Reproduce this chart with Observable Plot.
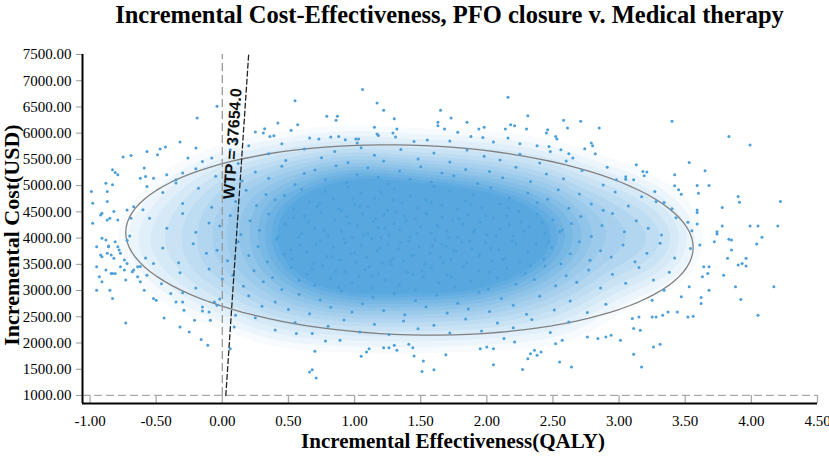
<!DOCTYPE html>
<html>
<head>
<meta charset="utf-8">
<script src="https://cdn.jsdelivr.net/npm/d3@7"></script>
<script src="https://cdn.jsdelivr.net/npm/@observablehq/plot@0.6"></script>
<style>
  body { margin: 0; background: #fff; }
  #title { width: 829px; box-sizing: border-box; padding-left: 82px; padding-right: 12px; height: 38px; line-height: 29px; text-align: center; font-family: "Liberation Serif", "Times New Roman", serif; font-weight: bold; font-size: 24.5px; color: #000; white-space: nowrap; }
</style>
</head>
<body>
<div id="title"></div>
<div id="chart"></div>
<script>
const titleText = "Incremental Cost-Effectiveness, PFO closure v. Medical therapy";
const xLabel = "Incremental Effectiveness(QALY)";
const yLabel = "Incremental Cost(USD)";
const xTicks = [-1, -0.5, 0, 0.5, 1, 1.5, 2, 2.5, 3, 3.5, 4, 4.5];
const yTicks = [1000, 1500, 2000, 2500, 3000, 3500, 4000, 4500, 5000, 5500, 6000, 6500, 7000, 7500];
const wtp = 37654.0;
const wtpLabel = "WTP = 37654.0";
const wtpCosts = [1000, 7500];
const wtpLabelCost = 5800;
// 95% ellipse: centre, half width (QALY), tilt (USD), half height (USD)
const ellipseCenter = [1.415, 3965];
const ellipseA = 2.145;
const ellipseShear = -143;
const ellipseB = 1809;

// scattered simulation points [effect, cost]
const upperLeftPoints = [[-0.04,6512],[-0.19,6290],[0.55,6620],[-0.32,5832],[-0.20,5717],[-0.43,5736],[-0.47,5698],[-0.49,5589],[-0.57,5652],[-0.75,5545],[-0.69,5575],[-0.81,5250],[-0.79,5206],[-0.83,5302],[-0.99,4887],[-0.98,4665],[-0.88,5048],[-0.87,4887],[-0.92,4442],[-0.85,4378],[-0.98,4282],[-0.59,5334],[-0.58,5174],[-0.52,5143],[-0.57,4983],[-0.72,4537],[-0.67,4600],[-0.69,4378],[-0.42,5206],[-0.35,5111],[-0.30,5239],[-0.26,5526],[-0.15,5460],[-0.08,5526],[0.06,5684],[-0.83,5015],[-0.87,4696],[-0.91,4474],[-0.82,4505],[-0.87,4346],[-0.79,4346],[-0.62,5143]];
const lowerLeftPoints = [[-0.95,3836],[-0.92,3677],[-0.95,3453],[-0.93,3262],[-0.91,3166],[-0.95,3008],[-0.85,3008],[-0.83,2849],[-0.84,3327],[-0.81,3327],[-0.73,2382],[-0.86,3836],[-0.79,3836],[-0.87,3710],[-0.72,3518],[-0.68,3358],[-0.64,3453],[-0.73,3199],[-0.62,3166],[-0.59,3008],[-0.57,3294],[-0.52,2849],[-0.50,2816],[-0.44,2478],[-0.52,3518],[-0.39,2944],[-0.35,2784],[-0.30,2784],[-0.32,2306],[-0.25,2210],[-0.29,2625],[-0.21,2434],[-0.15,2688],[-0.16,2065],[-0.11,1956],[-0.10,2593],[-0.09,2434],[-0.04,2721],[-0.06,2784],[0.06,1893],[0.09,2306],[0.56,2180],[-0.91,3996],[-0.88,3964],[-0.86,3849],[-0.81,3931],[-0.78,3772],[-0.84,3677],[-0.82,3614],[-0.77,3709],[-0.74,3581],[-0.91,3645],[-0.88,3390],[-0.83,3327],[-0.77,3453],[-0.74,3390],[-0.67,3390],[-0.64,3262]];
const lowerPoints = [[0.66,1446],[0.68,1491],[0.71,1331],[0.70,1841],[0.78,2038],[0.89,2052],[1.05,1746],[1.09,1828],[1.11,1893],[1.22,1912],[1.26,1912],[1.30,1956],[1.32,1860],[1.41,1975],[1.44,1912],[1.45,1751],[1.52,1656],[1.51,1459],[1.60,1491],[1.69,1778],[1.95,1893],[2.00,1923],[2.05,1893],[2.05,1587],[2.13,2084],[2.21,2020],[2.27,1497],[2.31,1702],[2.33,1797],[2.36,1860],[2.38,1765],[2.41,1828],[2.55,1637],[2.64,1541],[2.52,1988],[2.57,2052],[2.76,2115],[2.84,2084],[2.90,2115],[2.94,2147],[3.01,2052],[3.11,1784],[3.17,1541],[3.26,1923],[3.31,1975]];
const rightPoints = [[3.11,2275],[3.16,2243],[3.10,2466],[3.15,2497],[3.25,2497],[3.28,2497],[3.33,2530],[3.37,2593],[3.44,2593],[3.47,2880],[3.53,3071],[3.34,3008],[3.25,2816],[3.52,2497],[3.56,2510],[3.62,2868],[3.62,2753],[3.68,3008],[3.63,3262],[3.64,3453],[3.68,3453],[3.67,3327],[3.61,3868],[3.72,3931],[3.82,3614],[3.88,3071],[3.92,2829],[3.79,3294],[3.85,3772],[3.90,3486],[3.93,3518],[3.96,3467],[3.96,3614],[4.04,3887],[4.05,2530],[4.17,3071],[3.85,3963],[3.74,4122],[3.74,4078],[3.78,4231],[3.99,4231],[4.05,4231],[4.20,4231],[4.08,4015],[3.52,4302],[3.59,4270],[3.83,3977]];
const upperRightPoints = [[2.58,6245],[2.71,6226],[2.85,6099],[2.61,6099],[2.46,6067],[2.45,6004],[2.52,5939],[2.53,5889],[2.47,5748],[2.48,5652],[2.56,5684],[2.62,5608],[2.65,5526],[2.74,5703],[2.79,5812],[2.80,5761],[2.82,5608],[3.40,6226],[3.83,5939],[3.99,5774],[3.53,5442],[3.42,5206],[3.42,4996],[3.45,4920],[3.47,4837],[3.59,5002],[3.60,4856],[3.65,5283],[3.68,5002],[3.13,5398],[3.18,5270],[3.21,5258],[3.19,5187],[3.27,4887],[3.34,4677],[2.91,5353],[2.98,5111],[3.05,5124],[3.11,5111],[3.78,4581],[3.59,4537],[3.59,4486],[3.90,4792],[3.91,4684],[4.22,4696]];
const upperPoints = [[1.06,6832],[1.17,6577],[1.22,6436],[0.79,6321],[0.87,6321],[0.86,6245],[1.30,6276],[1.32,6080],[1.29,6004],[1.31,5927],[1.15,6111],[1.17,5984],[1.18,5958],[0.42,6194],[0.57,6162],[0.52,6054],[0.32,6086],[0.31,6004],[0.25,6023],[0.36,5939],[0.39,5952],[1.65,6436],[1.63,6207],[1.63,6143],[1.68,6080],[1.73,6290],[1.78,6016],[1.85,6207],[1.88,5939],[1.94,6080],[1.98,6111],[1.97,5920],[2.16,6684],[2.18,6162],[2.21,6143],[2.31,6334],[2.30,6080],[2.14,6080],[2.16,5908],[0.66,5908],[0.73,5889],[0.82,5927],[0.88,5939],[0.93,5876],[1.01,5889],[1.03,5889],[1.02,5812],[1.45,5840],[1.55,5870],[1.72,5850],[2.05,5830],[2.25,5800],[2.38,5760],[0.45,5800],[0.2,5760],[0.1,5850]];
const bandHigh = [[0.12,5420],[0.35,5610],[0.48,5480],[0.62,5700],[0.75,5530],[0.85,5650],[0.95,5440],[1.05,5720],[1.15,5580],[1.22,5470],[1.35,5690],[1.48,5510],[1.6,5620],[1.72,5450],[1.85,5680],[1.98,5560],[2.1,5490],[2.25,5600],[2.4,5430],[2.6,5470],
[-0.35,5050],[-0.2,5320],[-0.05,5180],[0.05,5390],[0.15,5090],[0.25,5260],[0.35,5140],[0.45,5370],[0.55,5020],[0.62,5230],[0.7,5300],[0.78,5110],[0.86,5380],[0.94,5060],[1.02,5210],[1.1,5340],[1.18,5160],[1.26,5030],[1.34,5280],[1.42,5120],[1.5,5360],[1.58,5070],[1.66,5240],[1.75,5190],[1.84,5310],[1.93,5040],[2.02,5270],[2.12,5150],[2.22,5350],[2.33,5080],[2.45,5220],[2.58,5130],[2.72,5290],[2.88,5010],[3.05,5170]];
const bandUpperMid = [[-0.6,4540],[-0.45,4870],[-0.3,4660],[-0.18,4950],[-0.08,4590],[0.02,4780],[0.1,4700],[0.18,4910],[0.26,4620],[0.33,4830],[0.4,4730],[0.47,4810],[0.54,4560],[0.6,4930],[0.66,4690],[0.72,4610],[0.78,4890],[0.84,4750],[0.9,4520],[0.95,4970],[1.0,4640],[1.05,4850],[1.1,4600],[1.15,4760],[1.2,4880],[1.25,4530],[1.3,4940],[1.36,4670],[1.42,4800],[1.48,4570],[1.54,4720],[1.6,4990],[1.66,4630],[1.72,4900],[1.78,4550],[1.84,4710],[1.9,4820],[1.96,4580],[2.03,4960],[2.1,4650],[2.17,4770],[2.24,4510],[2.31,4860],[2.38,4680],[2.46,4740],[2.54,4920],[2.62,4570],[2.7,4840],[2.79,4650],[2.88,4530],[2.97,4880],[3.07,4610],[3.17,4790],[3.28,4700],[3.4,4560],
[-0.7,4040],[-0.55,4380],[-0.42,4190],[-0.3,4470],[-0.2,4110],[-0.1,4290],[-0.02,4230],[0.06,4430],[0.14,4070],[0.21,4330],[0.28,4150],[0.35,4460],[0.42,4020],[0.48,4260],[0.54,4390],[0.6,4090],[0.65,4310],[0.7,4180],[0.75,4490],[0.8,4050],[0.85,4350],[0.9,4130],[0.94,4410],[0.98,4010],[1.02,4240],[1.06,4470],[1.1,4080],[1.14,4320],[1.18,4200],[1.22,4440],[1.26,4060],[1.3,4280],[1.34,4160],[1.38,4420],[1.42,4030],[1.46,4370],[1.5,4210],[1.54,4480],[1.58,4100],[1.62,4250],[1.66,4400],[1.7,4140],[1.74,4340],[1.78,4020],[1.82,4270],[1.86,4450],[1.9,4120],[1.95,4300],[2.0,4060],[2.05,4380],[2.1,4170],[2.15,4420],[2.2,4040],[2.26,4310],[2.32,4220],[2.38,4460],[2.44,4090],[2.5,4350],[2.57,4150],[2.64,4280],[2.71,4410],[2.79,4030],[2.87,4240],[2.95,4470],[3.04,4120],[3.13,4330],[3.22,4190],[3.32,4060],[3.43,4390],[3.55,4140]];
const bandLowerMid = [[-0.72,3960],[-0.58,3620],[-0.45,3810],[-0.33,3530],[-0.22,3890],[-0.12,3710],[-0.04,3770],[0.04,3570],[0.12,3930],[0.2,3670],[0.27,3840],[0.34,3550],[0.41,3980],[0.47,3690],[0.53,3600],[0.59,3870],[0.64,3740],[0.69,3510],[0.74,3950],[0.79,3650],[0.84,3820],[0.89,3580],[0.93,3900],[0.97,3700],[1.01,3540],[1.05,3860],[1.09,3630],[1.13,3990],[1.17,3760],[1.21,3520],[1.25,3880],[1.29,3610],[1.33,3790],[1.37,3560],[1.41,3940],[1.45,3680],[1.49,3830],[1.53,3500],[1.57,3720],[1.61,3970],[1.65,3640],[1.69,3850],[1.73,3590],[1.77,3750],[1.81,3920],[1.85,3530],[1.89,3800],[1.94,3660],[1.99,3910],[2.04,3570],[2.09,3780],[2.14,3620],[2.19,3950],[2.25,3540],[2.31,3730],[2.37,3880],[2.43,3600],[2.49,3820],[2.56,3510],[2.63,3700],[2.7,3930],[2.78,3580],[2.86,3760],[2.94,3640],[3.03,3870],[3.12,3550],[3.21,3710],[3.31,3900],[3.42,3620],[3.54,3800],
[-0.62,3460],[-0.46,3130],[-0.32,3340],[-0.2,3050],[-0.1,3410],[0.0,3220],[0.08,3290],[0.16,3080],[0.24,3380],[0.31,3170],[0.38,3250],[0.45,3020],[0.52,3440],[0.58,3190],[0.64,3310],[0.7,3100],[0.76,3480],[0.82,3230],[0.88,3060],[0.93,3360],[0.98,3150],[1.03,3270],[1.08,3400],[1.13,3040],[1.18,3320],[1.23,3200],[1.28,3490],[1.34,3110],[1.4,3350],[1.46,3010],[1.52,3260],[1.58,3430],[1.64,3140],[1.7,3300],[1.76,3070],[1.82,3450],[1.88,3180],[1.94,3370],[2.01,3030],[2.08,3240],[2.15,3420],[2.22,3120],[2.29,3330],[2.36,3210],[2.44,3470],[2.52,3090],[2.6,3280],[2.68,3160],[2.77,3390],[2.86,3050],[2.95,3310],[3.05,3140],[3.15,3440],[3.26,3200],[3.38,3350]];
const bandLow = [[-0.3,2960],[-0.15,2610],[-0.02,2840],[0.1,2530],[0.2,2900],[0.3,2700],[0.4,2780],[0.5,2640],[0.58,2930],[0.66,2560],[0.74,2820],[0.82,2680],[0.9,2990],[0.98,2590],[1.06,2750],[1.14,2870],[1.22,2620],[1.3,2940],[1.38,2540],[1.46,2810],[1.54,2690],[1.62,2910],[1.7,2570],[1.78,2760],[1.86,2650],[1.94,2970],[2.02,2600],[2.11,2850],[2.2,2720],[2.3,2550],[2.4,2890],[2.51,2630],[2.63,2800],[2.76,2580],[2.9,2740],
[0.25,2480],[0.4,2250],[0.55,2390],[0.68,2180],[0.8,2320],[0.92,2440],[1.04,2210],[1.15,2360],[1.26,2160],[1.37,2420],[1.48,2270],[1.6,2340],[1.72,2190],[1.84,2460],[1.96,2230],[2.08,2380],[2.2,2290],[2.34,2450],[2.48,2200],[2.62,2400]];
const densestCore = [[0.62,4420],[0.71,3880],[0.77,4150],[0.83,3640],[0.88,4560],[0.92,3990],[0.96,4280],[1.0,3720],[1.04,4610],[1.07,4060],[1.11,3450],[1.16,4370],[1.19,3810],[1.23,4190],[1.27,3570],[1.31,4500],[1.35,3920],[1.39,4330],[1.43,3660],[1.47,4090],[1.51,3380],[1.55,4460],[1.59,3850],[1.63,4220],[1.67,3540],[1.71,4010],[1.75,3760],[1.79,4380],[1.83,3480],[1.87,3950],[1.91,4160],[1.95,3690],[1.99,4420],[2.03,3810],[2.07,4050],[2.12,3590],[2.17,4250],[2.22,3890],[2.28,4130],[0.68,3410],[0.74,4670],[0.86,3360],[0.99,4760],[1.13,3280],[1.29,4720],[1.44,3310],[1.58,4680],[1.73,3260],[1.88,4640],[2.02,3350],[2.16,4580],[2.33,3470],[2.42,4300],[0.58,4020],[0.52,3780],[2.47,3930],[2.55,4120],[0.47,4260],[1.2,4010],[1.66,3880]];

const corePoints = [bandHigh, bandUpperMid, bandLowerMid, bandLow, densestCore].flat();
const points = [upperLeftPoints, lowerLeftPoints, lowerPoints, rightPoints, upperRightPoints, upperPoints, corePoints].flat();

const ellipse = d3.range(0, 361, 3).map(deg => {
  const t = deg * Math.PI / 180;
  return [ellipseCenter[0] + ellipseA * Math.cos(t), ellipseCenter[1] + ellipseShear * Math.cos(t) + ellipseB * Math.sin(t)];
});

const blue = "#4a9fdb";
const shade = "#58a7de";
document.getElementById("title").textContent = titleText;

const chart = Plot.plot({
  width: 829,
  height: 422,
  marginLeft: 82,
  marginRight: 12,
  marginTop: 16,
  marginBottom: 57,
  x: {domain: [-1.057, 4.5]},
  y: {domain: [847, 7500]},
  color: {type: "linear", interpolate: t => d3.interpolateRgb("#ffffff", shade)(Math.max(0, Math.min(1, (t - 0.08) / 0.5)))},
  style: {fontFamily: "'Liberation Serif', 'Times New Roman', serif", fontSize: "15px", color: "#000", background: "#fff", overflow: "visible"},
  marks: [
    Plot.density(corePoints, {x: d => d[0], y: d => d[1], fill: "density", stroke: "none", bandwidth: 24, thresholds: 30}),
    Plot.line(ellipse, {x: d => d[0], y: d => d[1], stroke: "#808080", strokeWidth: 1.3}),
    Plot.dot(points, {x: d => d[0], y: d => d[1], r: 1.5, fill: blue, stroke: "none"}),
    Plot.ruleY([1000], {stroke: "#aaa", strokeWidth: 1.3, strokeDasharray: "8,4"}),
    Plot.ruleX([0], {y1: 1000, y2: 7500, stroke: "#999", strokeWidth: 1.3, strokeDasharray: "8,4"}),
    Plot.line(wtpCosts.map(c => [c / wtp, c]), {x: d => d[0], y: d => d[1], stroke: "#222", strokeWidth: 1.3, strokeDasharray: "5,3"}),
    Plot.text([wtpLabel], {x: wtpLabelCost / wtp, y: wtpLabelCost, dx: -10, rotate: -86, fontFamily: "'Liberation Sans', Arial, sans-serif", fontWeight: "bold", fontSize: 16, fill: "#111"}),
    Plot.ruleX(xTicks, {y1: 847, y2: 1000, stroke: "#aaa", strokeWidth: 1.3}),
    Plot.axisY(yTicks, {tickFormat: d => d.toFixed(2), tickSize: 6, tickPadding: 5, stroke: "#999", fill: "#000", fontSize: 15, label: null}),
    Plot.axisX(xTicks, {tickFormat: d => d.toFixed(2), tickSize: 0, tickPadding: 12, fill: "#000", fontSize: 15, label: null}),
    Plot.ruleX([-1.057], {stroke: "#000", strokeWidth: 2}),
    Plot.ruleY([847], {stroke: "#000", strokeWidth: 2}),
    Plot.text([yLabel], {frameAnchor: "left", dx: -71, dy: 6, rotate: -90, textAnchor: "middle", lineAnchor: "middle", fontSize: 22, fontWeight: "bold", fill: "#000"}),
    Plot.text([xLabel], {frameAnchor: "bottom", dx: 3, dy: 38, textAnchor: "middle", lineAnchor: "middle", fontSize: 21, fontWeight: "bold", fill: "#000"})
  ]
});
document.getElementById("chart").appendChild(chart);
</script>
</body>
</html>
